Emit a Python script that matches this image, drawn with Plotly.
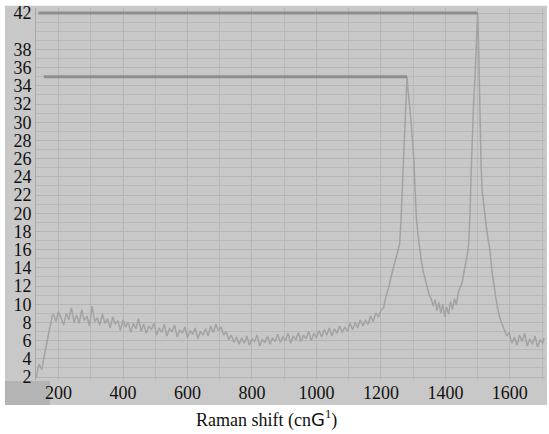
import plotly.graph_objects as go

# ---------------- data ----------------
# Raman shift (cm-1)
wavenumber = [
    132, 136, 140, 144, 148, 152, 156, 160, 164, 168, 172, 176, 180,
    184, 192, 200, 208, 216, 224, 232, 240,
    248, 256, 264, 272, 280, 288, 296, 304,
    312, 320, 328, 336, 344, 352, 360, 368,
    376, 384, 392, 400, 408, 416, 424, 432,
    440, 448, 456, 464, 472, 480, 488, 496,
    504, 512, 520, 528, 536, 544, 552, 560,
    568, 576, 584, 592, 600, 608, 616, 624,
    632, 640, 648, 656, 664, 672, 680, 688,
    696, 704, 712, 720, 728, 736, 744, 752,
    760, 768, 776, 784, 792, 800, 808, 816,
    824, 832, 840, 848, 856, 864, 872, 880,
    888, 896, 904, 912, 920, 928, 936, 944,
    952, 960, 968, 976, 984, 992, 1000, 1008,
    1016, 1024, 1032, 1040, 1048, 1056, 1064, 1072,
    1080, 1088, 1096, 1104, 1112, 1120, 1128, 1136,
    1144, 1152, 1160, 1168, 1176, 1184, 1192, 1200,
    1208, 1216, 1224, 1232, 1240, 1248, 1254, 1258, 1262, 1266,
    1270, 1273, 1276, 1279, 1281, 1284, 1287, 1290, 1294, 1298,
    1302, 1306, 1310, 1315, 1320, 1326, 1332, 1338, 1344, 1350,
    1356, 1362, 1368, 1374, 1380, 1386, 1392, 1398, 1404, 1410,
    1416, 1422, 1428, 1434, 1440,
    1446, 1452, 1458, 1464, 1468, 1472, 1476, 1480, 1484, 1488,
    1492, 1495, 1498, 1500, 1502, 1504, 1506, 1508, 1511, 1514,
    1518, 1522, 1527, 1532, 1538, 1544, 1550, 1556, 1562, 1568,
    1575, 1582, 1590, 1598, 1606, 1614, 1622, 1630, 1638, 1646,
    1654, 1662, 1670, 1678, 1686, 1694, 1702, 1706,
]

# intensity (a.u.)
intensity = [
    2.0, 3.0, 3.4, 3.1, 2.8, 3.6, 4.4, 5.0, 5.6, 6.4, 7.3, 7.9, 8.7,
    8.9, 8.1, 9.2, 8.4, 7.7, 9.0, 8.3, 9.6,
    8.0, 8.8, 7.9, 9.4, 8.2, 8.7, 7.6, 9.8,
    8.1, 8.5, 7.7, 8.9, 7.9, 8.4, 7.4, 8.6,
    7.8, 8.2, 7.1, 8.3, 7.5, 8.0, 6.9, 7.9,
    7.3, 8.4, 7.0, 7.8, 6.8, 7.6, 7.2, 7.9,
    6.6, 7.4, 6.9, 7.8, 6.5, 7.3, 7.0, 7.7,
    6.4, 7.2, 6.8, 7.5, 6.3, 7.1, 6.7, 7.4,
    6.2, 7.0, 6.6, 7.3, 6.5, 7.6, 6.9, 7.8,
    7.1, 7.5, 6.6, 7.0, 6.1, 6.6, 5.8, 6.4,
    5.6, 6.3, 5.7, 6.5, 5.5, 6.2, 5.9, 6.6,
    5.4, 6.1, 5.8, 6.5, 5.6, 6.3, 5.9, 6.7,
    5.8, 6.4, 6.0, 6.8, 5.7, 6.5, 6.1, 6.9,
    5.9, 6.6, 6.2, 7.0, 6.0, 6.8, 6.3, 7.1,
    6.4, 7.2, 6.6, 7.4, 6.5, 7.3, 6.8, 7.6,
    6.9, 7.5, 7.0, 7.9, 7.2, 8.0, 7.4, 8.3,
    7.6, 8.2, 7.8, 8.7, 8.1, 9.0, 8.6, 9.3,
    9.6, 10.9, 11.8, 13.1, 14.2, 15.0, 15.8, 16.6, 19.0, 22.5,
    25.5, 28.0, 32.0, 34.5, 35.0, 33.5, 32.6, 31.5, 29.8, 27.8,
    26.0, 22.5, 19.5, 17.6, 16.0, 14.6, 13.5, 12.6, 12.0, 11.0,
    10.6, 9.8, 10.5, 9.3, 10.2, 9.0, 10.0, 8.6, 9.7, 8.9,
    10.3, 9.4, 10.6, 9.9, 11.3,
    11.8, 12.4, 13.6, 14.5, 15.4, 16.6, 19.5, 24.5, 29.0, 32.5,
    35.0, 37.5, 40.5, 42.0, 40.0, 36.0, 32.5, 28.5, 25.0, 22.5,
    21.0, 20.0, 18.5, 17.2, 16.0, 13.8, 12.0, 10.8, 9.6, 8.6,
    7.9, 7.2, 6.5, 6.9, 5.7, 6.4, 5.5, 6.6, 5.9, 6.8,
    5.4, 6.2, 5.6, 6.5, 5.3, 6.1, 5.7, 6.3,
]

# where the two peak-marker lines start (cm-1) and the peak windows
guide_start = [154, 138]
peak_windows = [(1200, 1400), (1400, 1650)]

# tick labels
x_ticks = [200, 400, 600, 800, 1000, 1200, 1400, 1600]
y_ticks = [2, 4, 6, 8, 10, 12, 14, 16, 18, 20, 22, 24, 26, 28, 30, 32, 34, 36, 38, 42]

# ---------------- figure ----------------
fig = go.Figure()

fig.add_trace(go.Scatter(
    x=wavenumber, y=intensity, mode="lines",
    line=dict(color="#a3a3a3", width=1.5),
    hoverinfo="skip", showlegend=False,
))

for start, (lo, hi) in zip(guide_start, peak_windows):
    idx = [i for i, w in enumerate(wavenumber) if lo <= w < hi]
    ipk = max(idx, key=lambda i: intensity[i])
    fig.add_trace(go.Scatter(
        x=[start, wavenumber[ipk]], y=[intensity[ipk], intensity[ipk]],
        mode="lines", line=dict(color="#8e8e8e", width=3),
        hoverinfo="skip", showlegend=False,
    ))

tickfont = dict(family="Liberation Serif", size=18, color="#111111")

fig.update_layout(
    width=549, height=434,
    margin=dict(l=36, r=4, t=8, b=54),
    paper_bgcolor="white",
    plot_bgcolor="#c3c3c3",
    showlegend=False,
    xaxis=dict(
        range=[130, 1709],
        tickmode="array", tickvals=x_ticks, ticktext=[str(v) for v in x_ticks],
        ticks="", showgrid=True, gridcolor="#b5b5b5", gridwidth=1,
        minor=dict(dtick=100, tick0=0, showgrid=True, gridcolor="#b8b8b8", gridwidth=1),
        zeroline=False, showline=False, tickfont=tickfont,
    ),
    yaxis=dict(
        range=[1.67, 42.55],
        tickmode="array", tickvals=y_ticks, ticktext=[str(v) for v in y_ticks],
        ticks="", showgrid=True, gridcolor="#b5b5b5", gridwidth=1,
        minor=dict(dtick=1, tick0=0, showgrid=True, gridcolor="#bababa", gridwidth=1),
        zeroline=False, showline=True, linecolor="#a8a8a8", linewidth=1,
        tickfont=tickfont,
    ),
    shapes=[
        # grey panel behind the plot incl. label strips
        dict(type="rect", xref="paper", yref="paper", layer="below",
             x0=-0.061, x1=1.004, y0=-0.067, y1=1.006,
             fillcolor="#c8c8c8", line=dict(width=0)),
        # darker corner box at bottom-left
        dict(type="rect", xref="paper", yref="paper", layer="below",
             x0=-0.061, x1=0.0275, y0=-0.067, y1=-0.003,
             fillcolor="#b4b4b4", line=dict(width=0)),
    ],
    annotations=[
        dict(
            text="Raman shift (cn<span style='font-family:DejaVu Sans'>G</span><sup>1</sup>)",
            xref="paper", yref="paper", x=0.452, y=-0.105,
            xanchor="center", yanchor="middle", showarrow=False,
            font=dict(family="Liberation Serif", size=18, color="#111111"),
        )
    ],
)

fig.write_html(
    "out.html",
    config={"displayModeBar": False},
    post_script="document.body.style.margin='0px';document.body.style.overflow='hidden';",
)
